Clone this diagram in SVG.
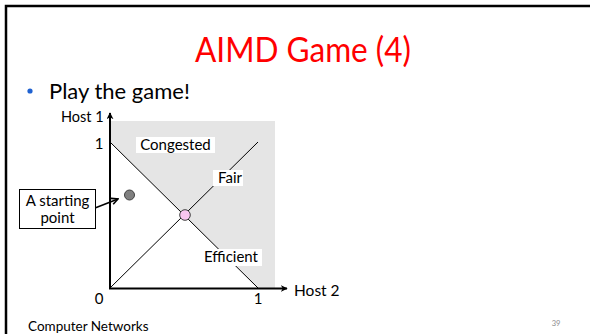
<svg xmlns="http://www.w3.org/2000/svg" width="590" height="334" viewBox="0 0 590 334">
<defs>
<style>
text{font-family:Lato,"Liberation Sans",sans-serif;fill:#000}
.lbl{font-size:15px}
.box{fill:#fff;stroke:none}
.ln{stroke:#000;stroke-width:1;fill:none}
.ax{stroke:#000;stroke-width:2;fill:none}
</style>
<marker id="ah" viewBox="0 0 10 10" refX="9" refY="5" markerWidth="7" markerHeight="7" orient="auto" markerUnits="userSpaceOnUse">
<path d="M0,0 L10,5 L0,10 L3,5 Z" fill="#000"/>
</marker>
<marker id="ah2" viewBox="0 0 10 10" refX="9" refY="5" markerWidth="8" markerHeight="8" orient="auto" markerUnits="userSpaceOnUse">
<path d="M1,1 L9,5 L1,9" fill="none" stroke="#000" stroke-width="2"/>
</marker>
</defs>
<rect width="590" height="334" fill="#fff"/>
<path d="M6,334 V6 H590" fill="none" stroke="#000" stroke-width="2.5"/>
<text x="303" y="62" text-anchor="middle" textLength="216" lengthAdjust="spacingAndGlyphs" style="font-size:35px;fill:#ff0000">AIMD Game (4)</text>
<circle cx="30" cy="91" r="2.6" fill="#1f62d1"/>
<text x="49" y="99" style="font-size:22px">Play the game!</text>
<g id="region">
<polygon points="110,121 275,121 275,288 258,288 110,142" fill="#e5e5e5"/>
</g>
<g id="connectors">
<line class="ln" x1="110" y1="142" x2="258" y2="288"/>
<line class="ln" x1="110" y1="288" x2="258" y2="142"/>
<line class="ax" x1="110" y1="289" x2="110" y2="113" marker-end="url(#ah)"/>
<line class="ax" x1="109" y1="288.5" x2="287" y2="288.5" marker-end="url(#ah)"/>
<line x1="95" y1="208" x2="118" y2="199" stroke="#000" stroke-width="1.5" marker-end="url(#ah2)"/>
</g>
<g id="axis-labels">
<text class="lbl" x="61" y="121.5" style="font-size:14.5px">Host 1</text>
<text class="lbl" x="294" y="295.5" style="font-size:15.5px">Host 2</text>
<text class="lbl" x="99" y="149" text-anchor="middle">1</text>
<text class="lbl" x="99" y="304" text-anchor="middle">0</text>
<text class="lbl" x="258" y="304" text-anchor="middle">1</text>
</g>
<g id="congested">
<rect class="box" x="136" y="137" width="79" height="16"/>
<text class="lbl" x="175.5" y="149.5" text-anchor="middle">Congested</text>
</g>
<g id="fair">
<rect class="box" x="213" y="170" width="30" height="16"/>
<text class="lbl" x="230" y="182.5" text-anchor="middle">Fair</text>
</g>
<g id="efficient">
<rect class="box" x="202" y="249" width="60" height="17"/>
<text class="lbl" x="231" y="261.5" text-anchor="middle">Efficient</text>
</g>
<g id="start-point">
<circle cx="129.5" cy="195" r="5" fill="#808080" stroke="#404040" stroke-width="1"/>
</g>
<g id="fair-point">
<circle cx="185" cy="215" r="5.3" fill="#f9c6f0" stroke="#404040" stroke-width="1"/>
</g>
<g id="starting-box">
<rect x="19.5" y="189.5" width="76" height="39" fill="#fff" stroke="#000" stroke-width="1"/>
<text class="lbl" x="57.5" y="206" text-anchor="middle">A starting</text>
<text class="lbl" x="57.5" y="223" text-anchor="middle">point</text>
</g>
<text x="28" y="331" style="font-size:13.5px">Computer Networks</text>
<text x="556" y="326" text-anchor="middle" style="font-size:7.5px;fill:#8c8c8c">39</text>
</svg>
